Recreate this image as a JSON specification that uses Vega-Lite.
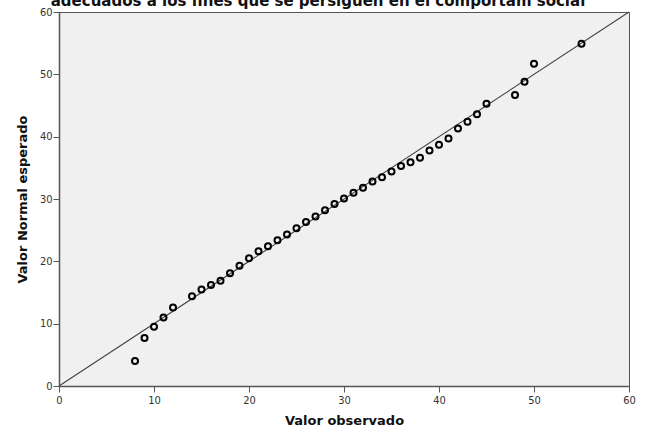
{
  "$schema": "https://vega.github.io/schema/vega-lite/v6.json",
  "width": 570,
  "height": 374,
  "autosize": {"type": "none"},
  "padding": {"left": 59, "top": 12, "right": 21, "bottom": 49},
  "background": "white",
  "title": {
    "text": "adecuados a los fines que se persiguen en el comportam social",
    "font": "DejaVu Sans",
    "fontSize": 15,
    "fontWeight": "bold",
    "color": "#111111",
    "anchor": "middle",
    "dx": -26,
    "dy": 15,
    "baseline": "alphabetic",
    "offset": 0
  },
  "datasets": {
    "points": [
      {"observado": 8, "esperado": 4.0},
      {"observado": 9, "esperado": 7.7},
      {"observado": 10, "esperado": 9.5},
      {"observado": 11, "esperado": 11.0},
      {"observado": 12, "esperado": 12.6},
      {"observado": 14, "esperado": 14.4},
      {"observado": 15, "esperado": 15.5},
      {"observado": 16, "esperado": 16.2},
      {"observado": 17, "esperado": 16.9},
      {"observado": 18, "esperado": 18.1},
      {"observado": 19, "esperado": 19.3},
      {"observado": 20, "esperado": 20.5},
      {"observado": 21, "esperado": 21.6},
      {"observado": 22, "esperado": 22.4},
      {"observado": 23, "esperado": 23.4},
      {"observado": 24, "esperado": 24.3},
      {"observado": 25, "esperado": 25.3},
      {"observado": 26, "esperado": 26.3},
      {"observado": 27, "esperado": 27.2},
      {"observado": 28, "esperado": 28.2},
      {"observado": 29, "esperado": 29.2},
      {"observado": 30, "esperado": 30.1},
      {"observado": 31, "esperado": 31.0},
      {"observado": 32, "esperado": 31.8},
      {"observado": 33, "esperado": 32.8},
      {"observado": 34, "esperado": 33.5},
      {"observado": 35, "esperado": 34.4},
      {"observado": 36, "esperado": 35.3},
      {"observado": 37, "esperado": 35.9},
      {"observado": 38, "esperado": 36.6},
      {"observado": 39, "esperado": 37.8},
      {"observado": 40, "esperado": 38.7},
      {"observado": 41, "esperado": 39.7},
      {"observado": 42, "esperado": 41.3},
      {"observado": 43, "esperado": 42.4},
      {"observado": 44, "esperado": 43.6},
      {"observado": 45, "esperado": 45.3},
      {"observado": 48, "esperado": 46.7},
      {"observado": 49, "esperado": 48.8},
      {"observado": 50, "esperado": 51.7},
      {"observado": 55, "esperado": 54.9}
    ],
    "refline": [
      {"x0": 0, "y0": 0, "x1": 60, "y1": 60}
    ]
  },
  "config": {
    "view": {"fill": "#f0f0f0", "stroke": "#555555", "strokeWidth": 1},
    "axis": {
      "grid": false,
      "domainColor": "#555555",
      "domainWidth": 1.5,
      "tickColor": "#555555",
      "tickSize": 6,
      "labelFont": "DejaVu Sans Condensed",
      "labelFontSize": 11,
      "labelColor": "#333333",
      "titleFont": "DejaVu Sans",
      "titleFontSize": 13,
      "titleFontWeight": "bold",
      "titleColor": "#111111"
    }
  },
  "layer": [
    {
      "data": {"name": "refline"},
      "mark": {"type": "rule", "color": "#444444", "strokeWidth": 1.1},
      "encoding": {
        "x": {"field": "x0", "type": "quantitative", "scale": {"domain": [0, 60], "nice": false, "zero": false}, "axis": {"values": [0, 10, 20, 30, 40, 50, 60], "title": "Valor observado", "labelPadding": 2, "titlePadding": 9, "labelFlush": false}},
        "y": {"field": "y0", "type": "quantitative", "scale": {"domain": [0, 60], "nice": false, "zero": false}, "axis": {"values": [0, 10, 20, 30, 40, 50, 60], "title": "Valor Normal esperado", "labelPadding": 1, "titlePadding": 10, "labelFlush": false}},
        "x2": {"field": "x1"},
        "y2": {"field": "y1"}
      }
    },
    {
      "data": {"name": "points"},
      "mark": {"type": "point", "shape": "circle", "filled": false, "color": "#000000", "size": 36, "strokeWidth": 2, "opacity": 1},
      "encoding": {
        "x": {"field": "observado", "type": "quantitative"},
        "y": {"field": "esperado", "type": "quantitative"}
      }
    }
  ]
}
